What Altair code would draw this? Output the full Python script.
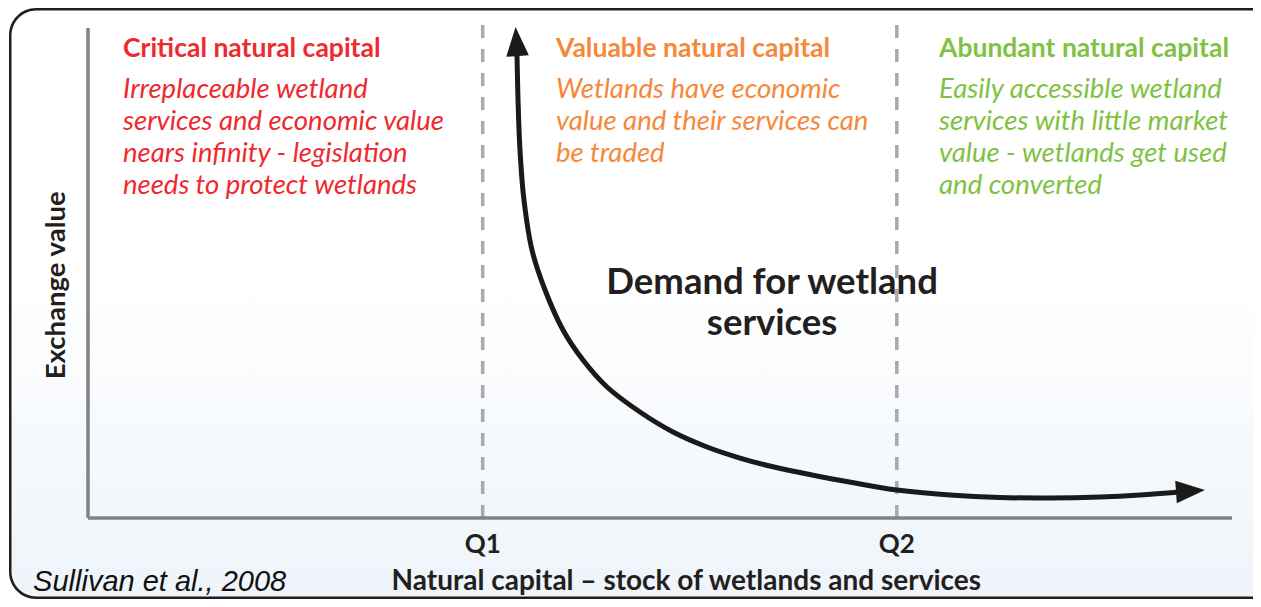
import altair as alt
import pandas as pd

# ---------------- data (chart units: x 0-100 natural capital, y 0-100 exchange value)
curve_x = [37.50, 37.59, 37.76, 38.11, 38.81, 39.95, 41.52, 43.27, 45.37, 48.25, 51.14,
           54.11, 56.99, 59.79, 63.29, 67.05, 70.72, 75.35, 79.72, 84.09, 88.46, 91.96, 95.45]
curve_y = [94.49, 85.31, 75.10, 64.90, 54.69, 46.53, 38.37, 32.24, 26.73, 21.63, 17.55,
           14.49, 12.24, 10.51, 8.78, 7.14, 5.71, 4.69, 4.18, 4.08, 4.29, 4.69, 5.31]

thresholds = [34.5, 70.7]
threshold_labels = ["Q1", "Q2"]

zone_titles = ["Critical natural capital", "Valuable natural capital", "Abundant natural capital"]
zone_lines = [
    ["Irreplaceable wetland", "services and economic value",
     "nears infinity - legislation", "needs to protect wetlands"],
    ["Wetlands have economic", "value and their services can", "be traded"],
    ["Easily accessible wetland", "services with little market",
     "value - wetlands get used", "and converted"],
]
zone_colors = ["#ee2a2f", "#f5883a", "#7fc242"]

curve_label = ["Demand for wetland", "services"]
x_title = "Natural capital \u2013 stock of wetlands and services"
y_title = "Exchange value"
source = "Sullivan et al., 2008"

# ---------------- layout (positions in chart units)
zone_x = [3.06, 40.91, 74.39]
title_y = 95.7
line_y = [87.35, 80.82, 74.29, 67.76]
curve_label_x = 59.8
curve_label_y = [47.96, 39.59]
q_label_y = -5.5
bottom_y = -13.0
x_title_x = 52.3
source_x = -4.8
y_title_x = -2.7
axis_top = 100.0
dash_top = 102.0

W, H = 1245, 591
xs = alt.Scale(domain=[0, 100], range=[80, 1224])
ys = alt.Scale(domain=[0, 100], range=[510, 20])
X = lambda f: alt.X(f, scale=xs, axis=None)
Y = lambda f: alt.Y(f, scale=ys, axis=None)

FONT = "Lato"
DARK = "#231f20"

one = pd.DataFrame({"a": [0]})
# background frame: dark outer rounded rect + gradient inner one (open to the right)
frame_outer = alt.Chart(one).mark_rect(cornerRadius=27, fill="#1e1e1e").encode(
    x=alt.value(1), x2=alt.value(2000), y=alt.value(0), y2=alt.value(591))
frame_inner = alt.Chart(one).mark_rect(
    cornerRadius=25,
    fill=alt.Gradient(
        gradient="linear",
        stops=[alt.GradientStop(color="#ffffff", offset=0),
               alt.GradientStop(color="#ffffff", offset=0.45),
               alt.GradientStop(color="#eef4fa", offset=1)],
        x1=0, x2=0, y1=0, y2=1,
    ),
).encode(x=alt.value(3.5), x2=alt.value(2000), y=alt.value(2.5), y2=alt.value(588.5))

# dashed thresholds
th_df = pd.DataFrame({"x": thresholds, "lab": threshold_labels, "y0": 0.0, "y1": dash_top, "ly": q_label_y})
dashes = alt.Chart(th_df).mark_rule(color="#a7a9ac", strokeWidth=3.5, strokeDash=[13, 11]).encode(
    x=X("x:Q"), y=Y("y0:Q"), y2="y1:Q")
q_text = alt.Chart(th_df).mark_text(font=FONT, fontWeight="bold", fontSize=26, color=DARK,
                                    baseline="middle", align="center").encode(
    x=X("x:Q"), y=Y("ly:Q"), text="lab:N")

# axes lines
ax_df = pd.DataFrame({"x0": [0.0, 0.0], "x1": [100.0, 0.0], "y0": [0.0, 0.0], "y1": [0.0, axis_top]})
axes = alt.Chart(ax_df).mark_rule(color="#808285", strokeWidth=3.5).encode(
    x=X("x0:Q"), x2="x1:Q", y=Y("y0:Q"), y2="y1:Q")

# curve
cv_df = pd.DataFrame({"x": curve_x, "y": curve_y, "i": list(range(len(curve_x)))})
curve = alt.Chart(cv_df).mark_line(color="#1a1a1a", strokeWidth=5, interpolate="catmull-rom",
                                   strokeCap="round").encode(
    x=X("x:Q"), y=Y("y:Q"), order="i:Q")

ARROW = "M0,-1L0.78,1L-0.78,1Z"
head_top = alt.Chart(pd.DataFrame({"x": [37.46], "y": [97.24]})).mark_point(
    shape=ARROW, filled=True, color="#1a1a1a", opacity=1, size=841, angle=356).encode(
    x=X("x:Q"), y=Y("y:Q"))
head_right = alt.Chart(pd.DataFrame({"x": [96.37], "y": [5.51]})).mark_point(
    shape=ARROW, filled=True, color="#1a1a1a", opacity=1, size=841, angle=86).encode(
    x=X("x:Q"), y=Y("y:Q"))

# zone titles and texts
rows_t = []
rows_l = []
for k in range(3):
    rows_t.append({"x": zone_x[k], "y": title_y, "t": zone_titles[k], "c": zone_colors[k]})
    for j, ln in enumerate(zone_lines[k]):
        rows_l.append({"x": zone_x[k], "y": line_y[j], "t": ln, "c": zone_colors[k]})
titles = alt.Chart(pd.DataFrame(rows_t)).mark_text(
    font=FONT, fontWeight="bold", fontSize=26.5, align="left", baseline="middle").encode(
    x=X("x:Q"), y=Y("y:Q"), text="t:N", color=alt.Color("c:N", scale=None))
lines = alt.Chart(pd.DataFrame(rows_l)).mark_text(
    font=FONT, fontStyle="italic", fontSize=27.5, align="left", baseline="middle").encode(
    x=X("x:Q"), y=Y("y:Q"), text="t:N", color=alt.Color("c:N", scale=None))

cl_df = pd.DataFrame({"x": curve_label_x, "y": curve_label_y, "t": curve_label})
clabel = alt.Chart(cl_df).mark_text(font=FONT, fontWeight="bold", fontSize=36.5, color=DARK,
                                    align="center", baseline="middle").encode(
    x=X("x:Q"), y=Y("y:Q"), text="t:N")

bt_df = pd.DataFrame({"x": [x_title_x], "y": [bottom_y], "t": [x_title]})
xtitle = alt.Chart(bt_df).mark_text(font=FONT, fontWeight="bold", fontSize=28, color=DARK,
                                    align="center", baseline="middle").encode(
    x=X("x:Q"), y=Y("y:Q"), text="t:N")

src_df = pd.DataFrame({"x": [source_x], "y": [bottom_y], "t": [source]})
src = alt.Chart(src_df).mark_text(font="Liberation Sans", fontStyle="italic", fontSize=29, color="#111111",
                                  align="left", baseline="middle").encode(
    x=X("x:Q"), y=Y("y:Q"), text="t:N")

yt_df = pd.DataFrame({"x": [y_title_x], "y": [47.5], "t": [y_title]})
ytitle = alt.Chart(yt_df).mark_text(font=FONT, fontWeight="bold", fontSize=27.5, color=DARK,
                                    align="center", baseline="middle", angle=270).encode(
    x=X("x:Q"), y=Y("y:Q"), text="t:N")

chart = alt.layer(frame_outer, frame_inner, dashes, axes, curve, head_top, head_right, titles, lines,
                  clabel, q_text, xtitle, src, ytitle).properties(
    width=W, height=H, padding=0, autosize="none"
).configure_view(stroke=None)

chart.save("out.html", embed_options={"renderer": "svg", "actions": False})
